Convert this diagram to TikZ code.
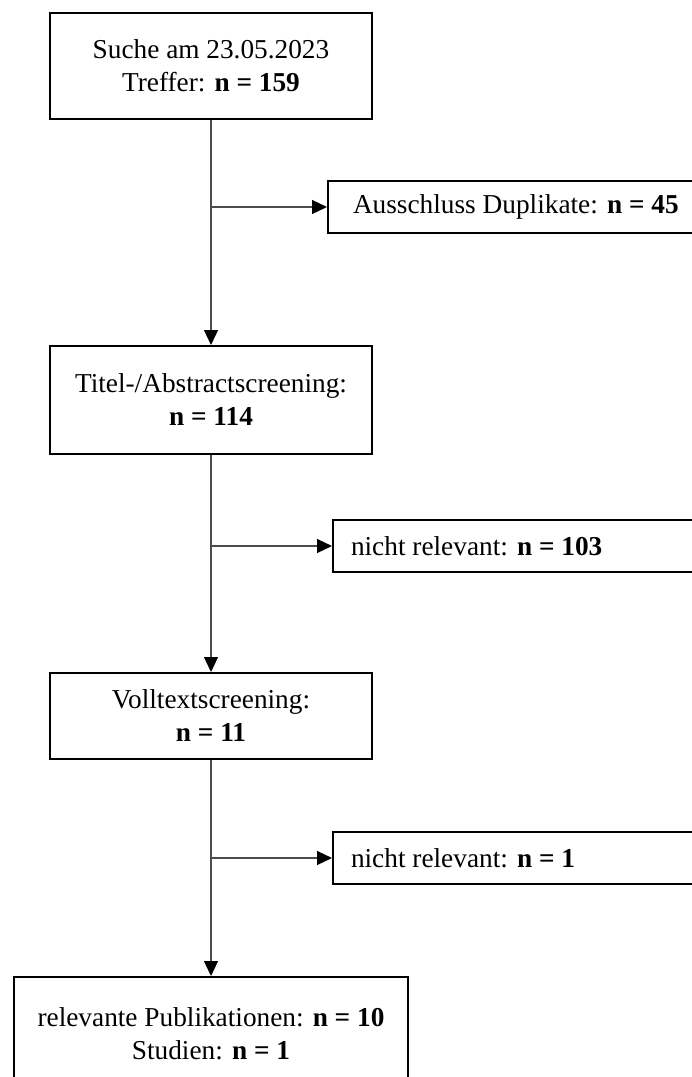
\documentclass[tikz,border=0pt]{standalone}
\usepackage{fontspec}
\setmainfont{Liberation Serif}
\usetikzlibrary{arrows.meta}
\begin{document}
\begin{tikzpicture}[x=1pt,y=-1pt,
  mainbox/.style={draw=black, line width=2pt, minimum width=322pt, align=center, inner sep=0pt,
    font=\fontsize{27.3}{33}\selectfont},
  sidebox/.style={draw=black, line width=2pt, anchor=west, minimum height=52pt, align=flush left,
    text width=364pt, inner xsep=18pt, inner ysep=0pt, font=\fontsize{27.3}{33}\selectfont},
  conn/.style={draw=black!70, line width=1.2pt},
  arr/.style={conn, -{Triangle[length=15pt,width=14pt,color=black]}}]
\path[use as bounding box, clip] (0,0) rectangle (692,1077);
\fill[white] (0,0) rectangle (692,1077);
\node[mainbox, minimum height=106pt] (b1) at (211,66) {Suche am 23.05.2023\\Treffer: \textbf{n = 159}};
\node[sidebox, inner xsep=25pt, text width=350pt] (b2) at (327,207) {Ausschluss Duplikate: \textbf{n = 45}};
\node[mainbox, minimum height=108pt] (b3) at (211,400) {Titel-/Abstractscreening:\\\textbf{n = 114}};
\node[sidebox] (b4) at (332,546) {nicht relevant: \textbf{n = 103}};
\node[mainbox, minimum height=86pt] (b5) at (211,716) {Volltextscreening:\\\textbf{n = 11}};
\node[sidebox] (b6) at (332,858) {nicht relevant: \textbf{n = 1}};
\node[mainbox, minimum width=394pt, minimum height=114pt] (b7) at (211,1034) {relevante Publikationen: \textbf{n = 10}\\Studien: \textbf{n = 1}};
\coordinate (j1) at (b1.south |- b2.west);
\coordinate (j2) at (b3.south |- b4.west);
\coordinate (j3) at (b5.south |- b6.west);
\draw[arr] (b1.south) -- (b3.north);
\draw[arr] (j1) -- (b2.west);
\draw[arr] (b3.south) -- (b5.north);
\draw[arr] (j2) -- (b4.west);
\draw[arr] (b5.south) -- (b7.north);
\draw[arr] (j3) -- (b6.west);
\end{tikzpicture}
\end{document}
